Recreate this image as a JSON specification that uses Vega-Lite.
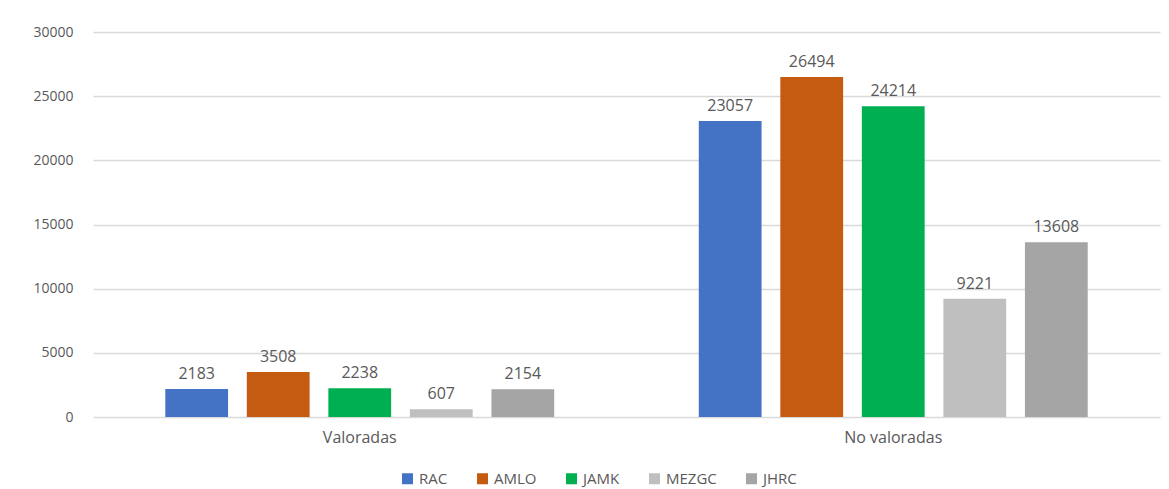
{
  "$schema": "https://vega.github.io/schema/vega-lite/v6.json",
  "width": 1067,
  "height": 385,
  "autosize": {"type": "none"},
  "padding": {"left": 93, "top": 32, "right": 9, "bottom": 72},
  "background": "white",
  "config": {
    "view": {"stroke": null},
    "font": "Open Sans"
  },
  "data": {
    "values": [
      {"grupo": "Valoradas", "serie": "RAC", "valor": 2183},
      {"grupo": "Valoradas", "serie": "AMLO", "valor": 3508},
      {"grupo": "Valoradas", "serie": "JAMK", "valor": 2238},
      {"grupo": "Valoradas", "serie": "MEZGC", "valor": 607},
      {"grupo": "Valoradas", "serie": "JHRC", "valor": 2154},
      {"grupo": "No valoradas", "serie": "RAC", "valor": 23057},
      {"grupo": "No valoradas", "serie": "AMLO", "valor": 26494},
      {"grupo": "No valoradas", "serie": "JAMK", "valor": 24214},
      {"grupo": "No valoradas", "serie": "MEZGC", "valor": 9221},
      {"grupo": "No valoradas", "serie": "JHRC", "valor": 13608}
    ]
  },
  "encoding": {
    "x": {
      "field": "grupo",
      "type": "nominal",
      "sort": ["Valoradas", "No valoradas"],
      "scale": {"paddingInner": 0.271, "paddingOuter": 0.1355},
      "axis": {
        "title": null,
        "labelAngle": 0,
        "domain": false,
        "ticks": false,
        "labelPadding": 12,
        "labelFontSize": 16,
        "labelColor": "#595959"
      }
    },
    "xOffset": {
      "field": "serie",
      "type": "nominal",
      "sort": ["RAC", "AMLO", "JAMK", "MEZGC", "JHRC"],
      "scale": {"paddingInner": 0.23, "paddingOuter": 0}
    },
    "y": {
      "field": "valor",
      "type": "quantitative",
      "scale": {"domain": [0, 30000], "nice": false},
      "axis": {
        "title": null,
        "values": [0, 5000, 10000, 15000, 20000, 25000, 30000],
        "format": "d",
        "domain": false,
        "ticks": false,
        "labelPadding": 20,
        "labelFontSize": 14,
        "labelColor": "#595959",
        "gridColor": "#D9D9D9",
        "gridWidth": 1.5
      }
    }
  },
  "layer": [
    {
      "mark": {"type": "bar"},
      "encoding": {
        "color": {
          "field": "serie",
          "type": "nominal",
          "sort": ["RAC", "AMLO", "JAMK", "MEZGC", "JHRC"],
          "scale": {
            "domain": ["RAC", "AMLO", "JAMK", "MEZGC", "JHRC"],
            "range": ["#4472C4", "#C55A11", "#00B050", "#BFBFBF", "#A5A5A5"]
          },
          "legend": {
            "title": null,
            "orient": "none",
            "legendX": 307,
            "legendY": 439,
            "direction": "horizontal",
            "symbolType": "square",
            "symbolSize": 121,
            "symbolStrokeWidth": 0,
            "labelFontSize": 15,
            "labelColor": "#595959",
            "labelOffset": 4,
            "columnPadding": 27
          }
        }
      }
    },
    {
      "mark": {
        "type": "text",
        "baseline": "bottom",
        "dy": -7,
        "fontSize": 16,
        "color": "#595959"
      },
      "encoding": {
        "text": {"field": "valor", "type": "quantitative", "format": "d"}
      }
    }
  ]
}
